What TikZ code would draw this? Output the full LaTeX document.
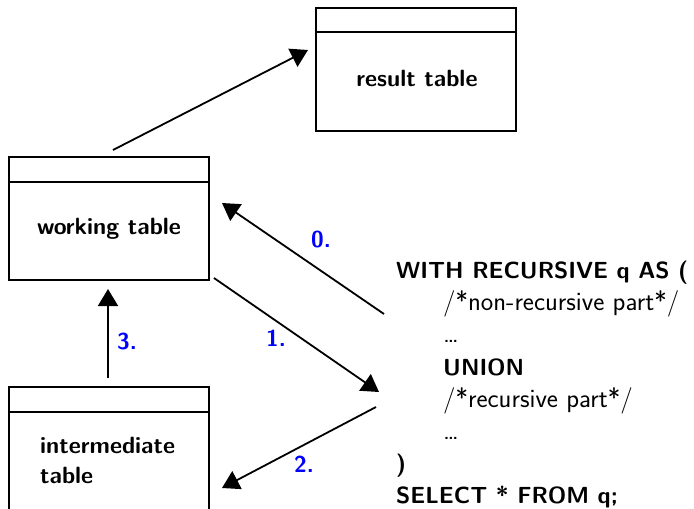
\documentclass[tikz,border=0pt]{standalone}
\usepackage{fontspec}
\usetikzlibrary{arrows.meta}
\begin{document}
\begin{tikzpicture}[x=1pt,y=-1pt,
  tablebox/.style={draw,line width=2pt,minimum width=200pt,inner sep=0pt},
  flow/.style={line width=1.8pt,-{Triangle[length=17pt,width=20pt]}},
  boxtext/.style={font=\fontsize{23.5}{30}\selectfont\sffamily\bfseries,align=left,inner sep=0pt},
  steplabel/.style={font=\fontsize{23}{24}\selectfont\sffamily\bfseries,text=blue},
  sqlkw/.style={anchor=base west,inner sep=0pt,font=\fontsize{23.3}{28}\selectfont\sffamily\bfseries},
  sqlcm/.style={anchor=base west,inner sep=0pt,font=\fontsize{26.5}{28}\selectfont\sffamily},
]
\useasboundingbox (0,0) rectangle (694,509);
\clip (0,0) rectangle (694,509);

% tables: body plus a header strip
\node[tablebox,minimum height=123pt] (result) at (416,69.5) {};
\draw[line width=2pt] ([yshift=-25pt]result.north west) -- ([yshift=-25pt]result.north east);
\node[boxtext] (resultlbl) at (417,78) {result table};

\node[tablebox,minimum height=123pt] (work) at (109,218.5) {};
\draw[line width=2pt] ([yshift=-26pt]work.north west) -- ([yshift=-26pt]work.north east);
\node[boxtext] (worklbl) at (109,229) {working table};

\node[tablebox,minimum height=133pt] (inter) at (109,453.5) {};
\draw[line width=2pt] ([yshift=-26pt]inter.north west) -- ([yshift=-26pt]inter.north east);
\node[boxtext,anchor=west] (interlbl) at (40,460) {intermediate\\table};

% the query, one line per node
\node[sqlkw] (q1) at (396,278)   {WITH RECURSIVE q AS (};
\node[sqlcm] (q2) at (443,310.3) {/*non-recursive part*/};
\node[sqlcm] (q3) at (443,342.6) {\dots};
\node[sqlkw] (q4) at (443,375)   {UNION};
\node[sqlcm] (q5) at (443,407.2) {/*recursive part*/};
\node[sqlcm] (q6) at (443,439.5) {\dots};
\node[sqlkw] (q7) at (396,471.8) {)};
\node[sqlkw] (q8) at (396,503)   {SELECT * FROM q;};

% connector end points
\coordinate (w-top) at (113,150);
\coordinate (r-in) at (308,50);
\coordinate (q-start) at (384,314);
\coordinate (w-in) at (222,203);
\coordinate (w-out) at (214,278);
\coordinate (q-mid) at (379,392);
\coordinate (q-rec) at (376,407);
\coordinate (i-in) at (222,488);
\coordinate (i-top) at (108,378);
\coordinate (w-bot) at (108,289);

\draw[flow] (w-top) -- (r-in);
\draw[flow] (q-start) -- (w-in);
\draw[flow] (w-out) -- (q-mid);
\draw[flow] (q-rec) -- (i-in);
\draw[flow] (i-top) -- (w-bot);

\node[steplabel] (l0) at (321,240) {0.};
\node[steplabel] (l1) at (276,338) {1.};
\node[steplabel] (l2) at (304,464) {2.};
\node[steplabel] (l3) at (127,342) {3.};
\end{tikzpicture}
\end{document}
